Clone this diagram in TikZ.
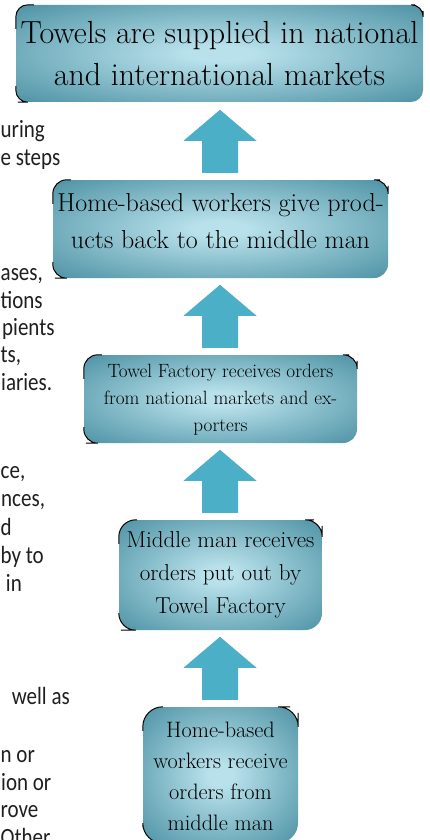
\documentclass[tikz,border=0pt]{standalone}
\usepackage{fontspec}
\newfontfamily\calibri{Carlito}
\usetikzlibrary{calc}
\definecolor{boxout}{RGB}{56,130,150}
\definecolor{boxin}{RGB}{184,225,235}
\definecolor{arrowc}{RGB}{75,175,200}
\pgfdeclareradialshading{boxshade}{\pgfpoint{0bp}{0bp}}{color(0bp)=(boxin); color(4bp)=(boxin); color(42bp)=(boxout); color(100bp)=(boxout)}
\newcommand{\tallt}[1]{\scalebox{1}[1.18]{#1}}
\begin{document}
\begin{tikzpicture}[x=1pt,y=-1pt,
  flowbox/.style={rounded corners=#1, shading=boxshade, inner sep=0pt},
  boxtext/.style={align=center, inner sep=0pt, text=black},
  blockarrow/.style={fill=arrowc, draw=none},
  cornermark/.style={draw=black, line width=1pt, rounded corners=#1},
  bgtext/.style={font=\calibri\fontsize{21}{28}\selectfont, inner sep=0pt, text=black!88},
  bgl/.style={bgtext, anchor=base west},
  bgr/.style={bgtext, anchor=base east}
]
\useasboundingbox (0,0) rectangle (429,840);
\clip (0,0) rectangle (429,840);
\fill[white] (0,0) rectangle (429,840);

% background page text fragments
\node[bgl] (l1) at (0.5,137) {\tallt{uring}};
\node[bgl] (l2) at (0.5,165) {\tallt{e steps}};
\node[bgl] (l3) at (0.5,280) {\tallt{ases,}};
\node[bgl] (l4) at (0.5,308) {\tallt{tions}};
\node[bgl] (l5) at (2,335) {\tallt{pients}};
\node[bgl] (l6) at (0.5,362) {\tallt{ts,}};
\node[bgl] (l7) at (1,390) {\tallt{iaries.}};
\node[bgl] (l8) at (0.5,478) {\tallt{ce,}};
\node[bgl] (l9) at (1,506) {\tallt{nces,}};
\node[bgl] (l10) at (0.5,535) {\tallt{d}};
\node[bgl] (l11) at (0.5,563) {\tallt{by to}};
\node[bgr] (l12) at (22,591) {\tallt{in}};
\node[bgr] (l13) at (70,704) {\tallt{well as}};
\node[bgl] (l14) at (0.5,762) {\tallt{n or}};
\node[bgl] (l15) at (1,790) {\tallt{ion or}};
\node[bgl] (l16) at (0.5,817) {\tallt{rove}};
\node[bgl] (l17) at (0.5,845) {\tallt{Other}};

% boxes
\node[flowbox=12pt, minimum width=407pt, minimum height=97pt] (b1) at (219.5,53.5) {};
\node[flowbox=14pt, minimum width=335pt, minimum height=98pt] (b2) at (220.5,229) {};
\node[flowbox=14pt, minimum width=273pt, minimum height=88pt] (b3) at (220.5,399) {};
\node[flowbox=17pt, minimum width=203pt, minimum height=110pt] (b4) at (220.5,575) {};
\node[flowbox=20pt, minimum width=155pt, minimum height=136pt] (b5) at (220.5,775) {};

% corner marks
\foreach \n/\r in {b1/12pt,b2/14pt,b3/14pt,b4/17pt,b5/20pt}{
  \draw[cornermark=\r] ($(\n.north west)+(0,24)$) -- (\n.north west) -- ++(18,0);
  \draw[cornermark=\r] ($(\n.north east)+(-8,0)$) -- (\n.north east) -- ++(0,6);
  \draw[cornermark=\r] ($(\n.south west)+(0,-16)$) -- (\n.south west) -- ++(2,0);
}

% texts
\node[boxtext, font=\fontsize{32}{42}\selectfont] (t1) at (219.5,54) {Towels are supplied in national\\and international markets};
\node[boxtext, font=\fontsize{26}{37}\selectfont] (t2) at (220.5,221) {Home-based workers give prod-\\ucts back to the middle man};
\node[boxtext, font=\fontsize{19.2}{27}\selectfont] (t3) at (220.5,400) {Towel Factory receives orders\\from national markets and ex-\\porters};
\node[boxtext, font=\fontsize{23}{33}\selectfont] (t4) at (220.5,575) {Middle man receives\\orders put out by\\Towel Factory};
\node[boxtext, font=\fontsize{22.3}{31}\selectfont] (t5) at (220.5,776.5) {Home-based\\workers receive\\orders from\\middle man};

% block arrows (from lower box up to upper box)
\foreach \lo/\up in {b2/b1,b3/b2,b4/b3,b5/b4}{
  \coordinate (base) at ($(\lo.north)+(-0.5,-7)$);
  \fill[blockarrow] (base) +(-18,0) -- +(-18,-32) -- +(-36.5,-32) -- +(0,-63) -- +(36.5,-32) -- +(18,-32) -- +(18,0) -- cycle;
}
\end{tikzpicture}
\end{document}
